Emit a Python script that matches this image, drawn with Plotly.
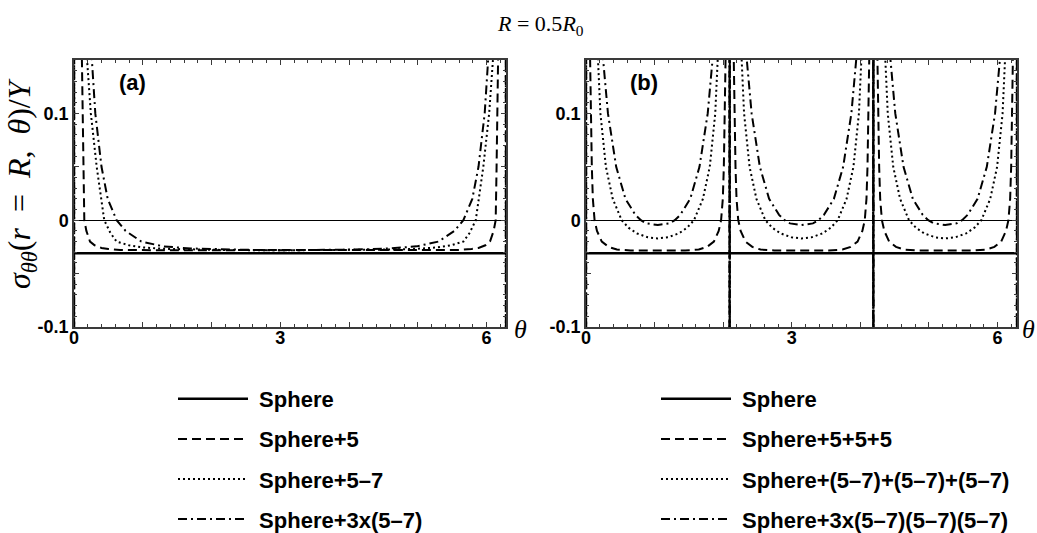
import math
import plotly.graph_objects as go

PI = math.pi
TWO_PI = 2 * math.pi

# ---------------- data ----------------
sphere_value = -0.031

# Panel (a): profiles vs distance d from theta=0 (mirrored about theta=pi)
a_dash_d = [0.0, 0.004, 0.115, 0.125, 0.137, 0.15, 0.18, 0.233, 0.30, 0.40, 0.50, 0.67, 1.2, PI]
a_dash_v = [-3, 3, 0.15, 0.10, 0.05, 0.0, -0.010, -0.020, -0.0235, -0.026, -0.027, -0.0278, -0.0281, -0.0282]

a_dot_d = [0.0, 0.004, 0.19, 0.245, 0.33, 0.44, 0.53, 0.62, 0.80, 1.0, 1.3, 1.7, 2.3, PI]
a_dot_v = [-3, 3, 0.15, 0.10, 0.05, 0.0, -0.012, -0.020, -0.0235, -0.0255, -0.0268, -0.0275, -0.0280, -0.0281]

a_dd_d = [0.0, 0.004, 0.26, 0.31, 0.40, 0.49, 0.62, 0.75, 0.98, 1.3, 1.7, 2.2, 2.7, PI]
a_dd_v = [-3, 3, 0.15, 0.10, 0.05, 0.02, 0.0, -0.010, -0.020, -0.0245, -0.0265, -0.0275, -0.0280, -0.0281]

# Panel (b): one-period profiles vs distance d from the nearest singular angle
b_dash_d = [0.0, 0.004, 0.06, 0.07, 0.085, 0.10, 0.125, 0.16, 0.23, 0.33, 0.45, 0.65, PI / 3]
b_dash_v = [-3, 3, 0.15, 0.10, 0.05, 0.02, 0.0, -0.010, -0.020, -0.025, -0.0275, -0.0283, -0.0285]

b_dot_d = [0.0, 0.004, 0.175, 0.21, 0.29, 0.39, 0.52, 0.62, 0.74, 0.90, PI / 3]
b_dot_v = [-3, 3, 0.15, 0.10, 0.05, 0.02, 0.0, -0.007, -0.0123, -0.016, -0.0171]

b_dd_d = [0.0, 0.004, 0.25, 0.32, 0.44, 0.575, 0.72, 0.80, 0.88, PI / 3]
b_dd_v = [-3, 3, 0.15, 0.10, 0.05, 0.02, 0.005, 0.0, -0.003, -0.0045]

legend_a = ["Sphere", "Sphere+5", "Sphere+5\u20137", "Sphere+3x(5\u20137)"]
legend_b = ["Sphere", "Sphere+5+5+5", "Sphere+(5\u20137)+(5\u20137)+(5\u20137)",
            "Sphere+3x(5\u20137)(5\u20137)(5\u20137)"]

x_tickvals = [0, 1, 2, 3, 4, 5, 6]
x_ticktext = ["0", " ", " ", "3", " ", " ", "6"]
y_tickvals = [-0.1, -0.05, 0, 0.05, 0.1, 0.15]
y_ticktext = ["-0.1", " ", "0", " ", "0.1", " "]


def mirror_period(start, half, d, v):
    xs = [start + di for di in d] + [start + 2 * half - di for di in reversed(d[:-1])]
    ys = list(v) + list(reversed(v[:-1]))
    return xs, ys


def periodic(d, v, n=3):
    half = PI / n
    X, Y = [], []
    for k in range(n):
        xs, ys = mirror_period(k * 2 * half, half, d, v)
        if k > 0:
            xs, ys = xs[1:], ys[1:]
        X += xs
        Y += ys
    return X, Y


styles = [
    dict(color="black", width=2.6, dash="solid"),
    dict(color="black", width=2.0, dash="9px,5px"),
    dict(color="black", width=2.0, dash="2px,3px"),
    dict(color="black", width=2.0, dash="9px,4px,2px,4px"),
]

fig = go.Figure()

# panel (a)
curves_a = [
    ([0, TWO_PI], [sphere_value, sphere_value]),
    mirror_period(0, PI, a_dash_d, a_dash_v),
    mirror_period(0, PI, a_dot_d, a_dot_v),
    mirror_period(0, PI, a_dd_d, a_dd_v),
]
for i, (xs, ys) in enumerate(curves_a):
    fig.add_trace(go.Scatter(x=xs, y=ys, mode="lines", line=styles[i], name="\u00a0" + legend_a[i],
                             legend="legend", legendgroup="a%d" % i,
                             xaxis="x", yaxis="y", hoverinfo="skip"))

# panel (b)
curves_b = [
    ([0, TWO_PI], [sphere_value, sphere_value]),
    periodic(b_dash_d, b_dash_v),
    periodic(b_dot_d, b_dot_v),
    periodic(b_dd_d, b_dd_v),
]
for i, (xs, ys) in enumerate(curves_b):
    fig.add_trace(go.Scatter(x=xs, y=ys, mode="lines", line=styles[i], name="\u00a0" + legend_b[i],
                             legend="legend2", legendgroup="b%d" % i,
                             xaxis="x2", yaxis="y2", hoverinfo="skip"))

W, H = 1037, 533
frame_col = "#3a3a3a"
tickfont = dict(family="Liberation Sans", size=18, color="black", weight="bold")


def xax(domain):
    return dict(domain=domain, range=[0, TWO_PI], showline=True, linecolor=frame_col, linewidth=1.5,
                mirror="allticks", ticks="inside", ticklen=5, tickwidth=1, tickcolor=frame_col,
                tickvals=x_tickvals, ticktext=x_ticktext, tickfont=tickfont, ticklabelstandoff=-6,
                minor=dict(dtick=0.2, ticks="inside", ticklen=3, tickcolor=frame_col, showgrid=False),
                showgrid=False, zeroline=False, fixedrange=True)


def yax(domain, anchor):
    return dict(domain=domain, range=[-0.1, 0.15], anchor=anchor, showline=True, linecolor=frame_col,
                linewidth=1.5, mirror="allticks", ticks="inside", ticklen=5, tickwidth=1,
                tickcolor=frame_col, tickvals=y_tickvals, ticktext=y_ticktext, tickfont=tickfont,
                minor=dict(dtick=0.01, ticks="inside", ticklen=3, tickcolor=frame_col, showgrid=False),
                showgrid=False, zeroline=True, zerolinecolor="black", zerolinewidth=1, fixedrange=True)


ydom = [1 - 327 / H, 1 - 60 / H]
legfont = dict(family="Liberation Sans", size=22, color="black", weight="bold")
fig.update_layout(
    width=W, height=H,
    margin=dict(l=0, r=0, t=0, b=0, autoexpand=False),
    paper_bgcolor="white", plot_bgcolor="white",
    xaxis=xax([74 / W, 506 / W]) | dict(anchor="y"),
    yaxis=yax(ydom, "x"),
    xaxis2=xax([586 / W, 1017 / W]) | dict(anchor="y2"),
    yaxis2=yax(ydom, "x2"),
    legend=dict(x=173 / W, y=1 - 378 / H, xanchor="left", yanchor="top", itemwidth=70,
                font=legfont, tracegroupgap=8.5, bgcolor="rgba(0,0,0,0)",
                itemclick=False, itemdoubleclick=False),
    legend2=dict(x=656 / W, y=1 - 378 / H, xanchor="left", yanchor="top", itemwidth=70,
                 font=legfont, tracegroupgap=8.5, bgcolor="rgba(0,0,0,0)",
                 itemclick=False, itemdoubleclick=False),
    showlegend=True,
)

serif = "Liberation Serif"
ann = [
    dict(text="<i>R</i> = 0.5<i>R</i><sub>0</sub>", x=540 / W, y=1 - 25 / H,
         font=dict(family=serif, size=22, color="black")),
    dict(text="<i>σ</i><sub><i>θθ</i></sub>(<i>r</i>  =  <i>R</i>,  <i>θ</i>)/<i>Y</i>",
         x=22 / W, y=1 - 184 / H, textangle=-90, font=dict(family=serif, size=32, color="black")),
    dict(text="<i>θ</i>", x=520 / W, y=1 - 329 / H, font=dict(family=serif, size=26, color="black")),
    dict(text="<i>θ</i>", x=1028 / W, y=1 - 329 / H, font=dict(family=serif, size=26, color="black")),
    dict(text="<b>(a)</b>", x=132 / W, y=1 - 83 / H,
         font=dict(family="Liberation Sans", size=22, color="black")),
    dict(text="<b>(b)</b>", x=644 / W, y=1 - 83 / H,
         font=dict(family="Liberation Sans", size=22, color="black")),
]
for a in ann:
    a.update(xref="paper", yref="paper", showarrow=False, xanchor="center", yanchor="middle")
fig.update_layout(annotations=ann)

fig.write_html("out.html", config={"displayModeBar": False})
